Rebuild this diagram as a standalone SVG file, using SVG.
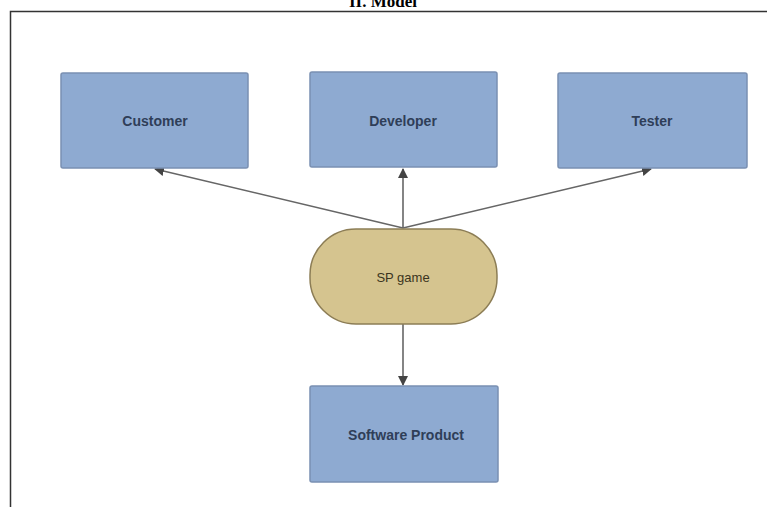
<svg xmlns="http://www.w3.org/2000/svg" width="767" height="507" viewBox="0 0 767 507">
<defs>
<marker id="ah" markerWidth="10" markerHeight="10" refX="9" refY="5" orient="auto" markerUnits="userSpaceOnUse">
<path d="M0,0 L10,5 L0,10 Z" fill="#444"/>
</marker>
<style>
.box{fill:#8eaad1;stroke:#7a90b2;stroke-width:1.5}
.pill{fill:#d5c48f;stroke:#8c7d55;stroke-width:1.5}
.lbl{font-family:"Liberation Sans",Arial,sans-serif;font-size:14px;font-weight:bold;fill:#2f3e58;text-anchor:middle}
.lbl2{font-family:"Liberation Sans",Arial,sans-serif;font-size:13px;fill:#3b3520;text-anchor:middle}
.edge{stroke:#666;stroke-width:1.6;fill:none;marker-end:url(#ah)}
</style>
</defs>
<rect width="767" height="507" fill="#fff"/>
<text x="383" y="7" font-family="'Liberation Serif','Times New Roman',serif" font-size="17" font-weight="bold" text-anchor="middle" fill="#000">II. Model</text>
<path d="M10.5,507 V11.5 H767" fill="none" stroke="#333" stroke-width="1.5"/>
<g id="connectors">
<line class="edge" x1="403" y1="228" x2="155" y2="169"/>
<line class="edge" x1="403" y1="228" x2="403" y2="169"/>
<line class="edge" x1="403" y1="228" x2="651" y2="169"/>
<line class="edge" x1="403" y1="324" x2="403" y2="385"/>
</g>
<g id="customer"><rect class="box" x="61" y="73" width="187" height="95" rx="2"/><text class="lbl" x="155" y="126">Customer</text></g>
<g id="developer"><rect class="box" x="310" y="72" width="187" height="95" rx="2"/><text class="lbl" x="403" y="126">Developer</text></g>
<g id="tester"><rect class="box" x="558" y="73" width="189" height="95" rx="2"/><text class="lbl" x="652" y="126">Tester</text></g>
<g id="spgame"><rect class="pill" x="310" y="229" width="187" height="95" rx="46" ry="46"/><text class="lbl2" x="403" y="282">SP game</text></g>
<g id="software-product"><rect class="box" x="310" y="386" width="188" height="96" rx="2"/><text class="lbl" x="406" y="440">Software Product</text></g>
</svg>
